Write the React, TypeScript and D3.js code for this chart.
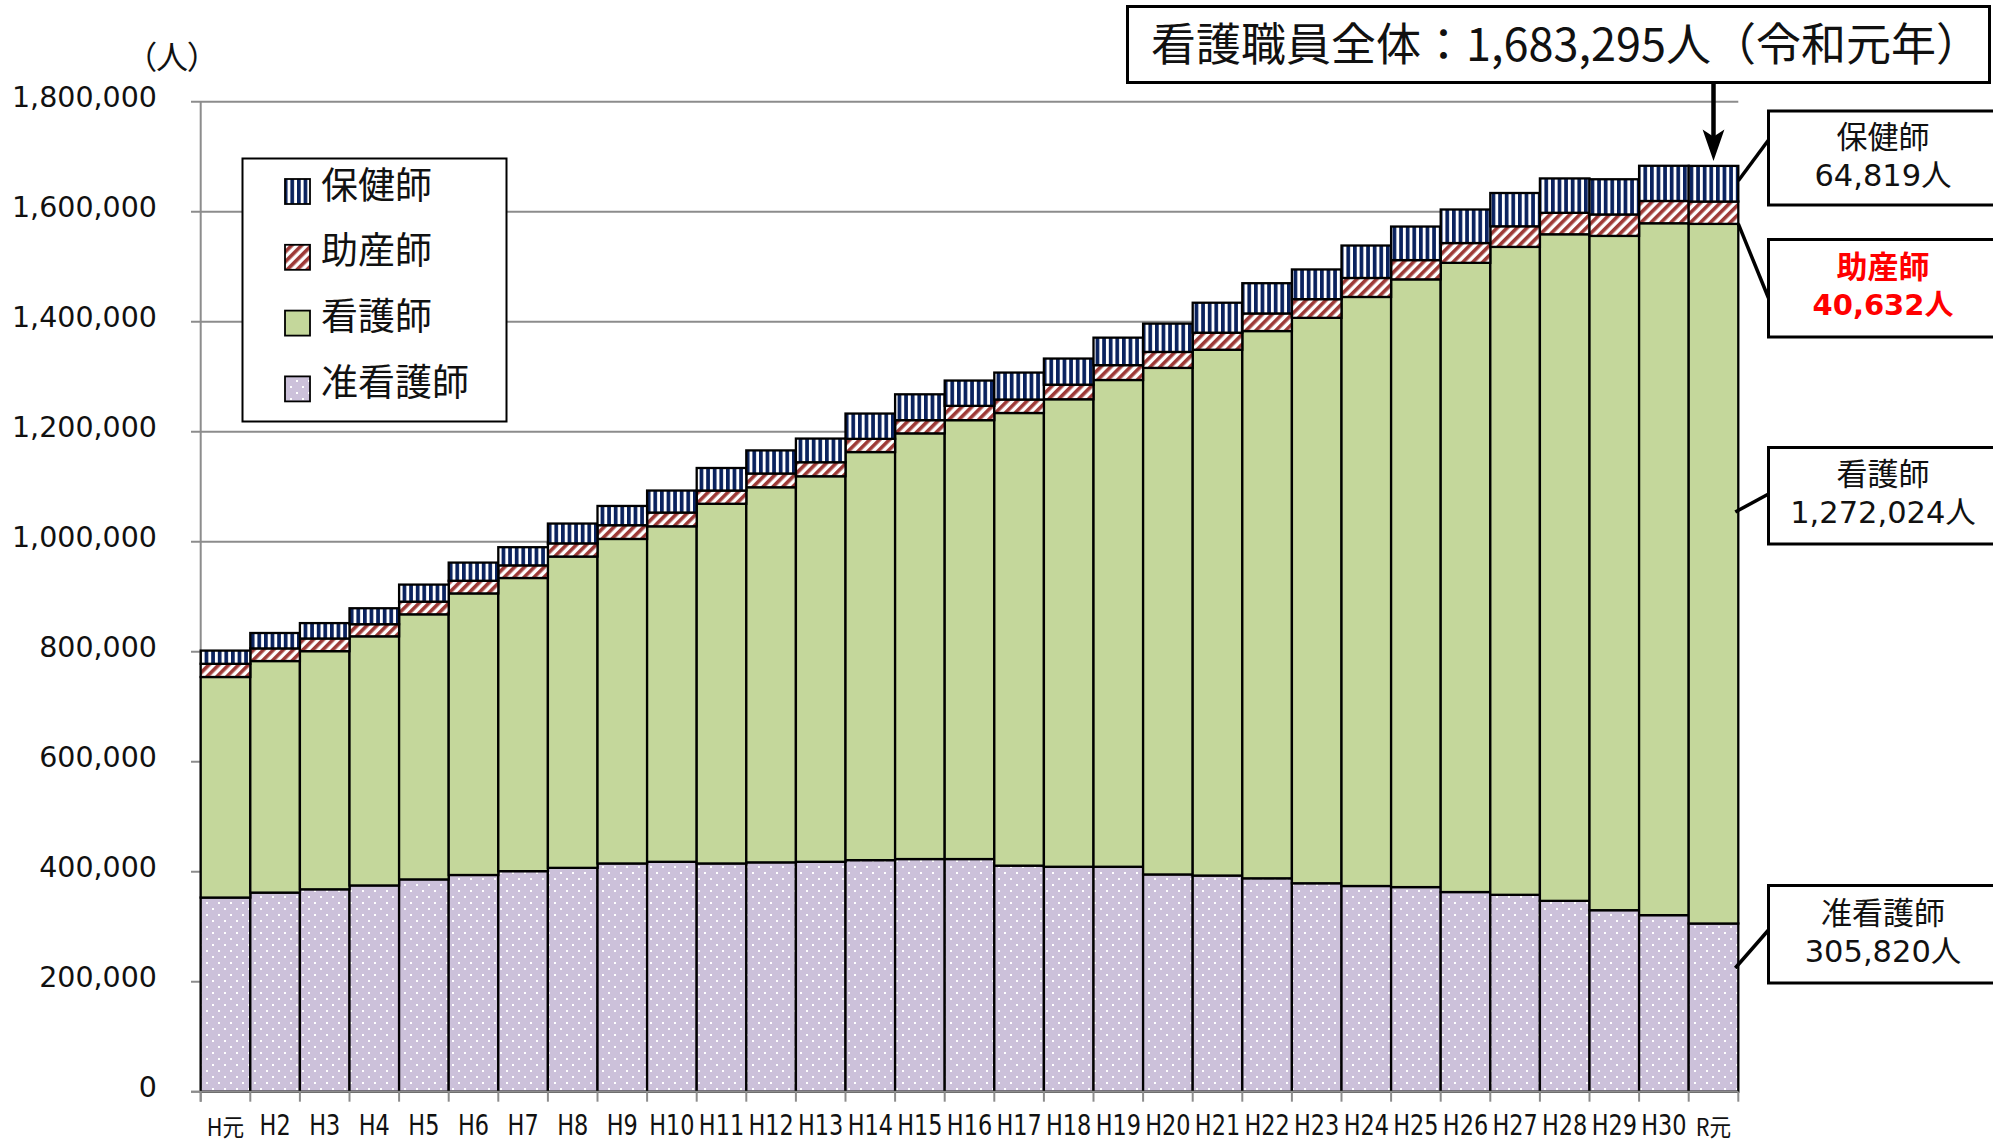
import React from "react";
import * as d3 from "d3";

const categories = ["H元","H2","H3","H4","H5","H6","H7","H8","H9","H10","H11","H12","H13","H14","H15","H16","H17","H18","H19","H20","H21","H22","H23","H24","H25","H26","H27","H28","H29","H30","R元"];

const junkangoshi = [353000,362000,368000,375000,386000,394000,401000,407000,415000,418000,415000,417000,418000,421000,423000,423000,411000,409000,409000,395000,393000,388000,379000,374000,372000,363000,358000,347000,330000,321000,305820];
const kangoshi = [401000,421000,433000,453000,482000,512000,533000,566000,590000,610000,654000,682000,701000,742000,774000,798000,823000,850000,885000,921000,956000,995000,1028000,1071000,1105000,1144000,1178000,1212000,1226000,1258000,1272024];
const josanshi = [24000,23000,23000,22000,23000,23000,23000,24000,25000,25000,24000,25000,25500,24000,24000,26000,24500,26500,27000,29000,31000,32000,34000,34500,35000,36000,37500,39000,39000,40500,40632];
const hokenshi = [24000,28000,28000,29000,31000,33000,33000,36000,35000,40000,41000,42000,43000,46000,47000,46000,49000,47500,50000,51500,54500,55000,54000,59000,61000,61000,60500,62500,64000,64000,64819];

const seriesKeys = ["准看護師","看護師","助産師","保健師"];
const legendOrder = ["保健師","助産師","看護師","准看護師"];
const yTicks = [0,200000,400000,600000,800000,1000000,1200000,1400000,1600000,1800000];

const fills: Record<string,string> = {
  "准看護師": "url(#pDots)",
  "看護師": "#C4D79B",
  "助産師": "url(#pDiag)",
  "保健師": "url(#pVert)",
};

const JP = "'Noto Sans CJK JP', 'Noto Sans', sans-serif";
const NUM = "'DejaVu Sans', Verdana, sans-serif";
const NUMJP = "'DejaVu Sans', 'Noto Sans CJK JP', sans-serif";

export default function App() {
  const W = 1993, H = 1142;
  const x0 = 200.7, x1 = 1738.3, yBottom = 1091.7, yTop = 101.7;
  const x = d3.scaleBand<string>().domain(categories).range([x0, x1]).padding(0);
  const y = d3.scaleLinear().domain([0, 1800000]).range([yBottom, yTop]);

  const rows = categories.map((c, i) => ({
    cat: c,
    "准看護師": junkangoshi[i],
    "看護師": kangoshi[i],
    "助産師": josanshi[i],
    "保健師": hokenshi[i],
  }));
  const stacked = d3.stack<any>().keys(seriesKeys)(rows);

  const last = categories.length - 1;
  const total = junkangoshi[last] + kangoshi[last] + josanshi[last] + hokenshi[last];
  const fmt = d3.format(",");
  const lastX = x(categories[last])!;
  const lastMid = lastX + x.bandwidth() / 2;
  const lastRight = lastX + x.bandwidth();

  const boxL = 1768.5;
  const callouts = [
    { key: "保健師", top: 111, bottom: 205, name: "保健師", val: hokenshi[last], red: false, ly: 140, ty: y(total - hokenshi[last] / 2) - 3 },
    { key: "助産師", top: 239.5, bottom: 337, name: "助産師", val: josanshi[last], red: true, ly: 298, ty: y(junkangoshi[last] + kangoshi[last]) },
    { key: "看護師", top: 447.5, bottom: 544, name: "看護師", val: kangoshi[last], red: false, ly: 494, ty: 512 },
    { key: "准看護師", top: 885.5, bottom: 983, name: "准看護師", val: junkangoshi[last], red: false, ly: 930, ty: 968 },
  ];

  return (
    <svg width={W} height={H} style={{ position: "absolute", left: 0, top: 0, background: "#fff" }}>
      <defs>
        <pattern id="pDots" patternUnits="userSpaceOnUse" width="12" height="12">
          <rect width="12" height="12" fill="#CCC1DA" />
          <rect x="2" y="2" width="2" height="2" fill="#ffffff" />
          <rect x="8" y="8" width="2" height="2" fill="#ffffff" />
        </pattern>
        <pattern id="pDiag" patternUnits="userSpaceOnUse" width="7" height="7" patternTransform="rotate(45)">
          <rect width="7" height="7" fill="#ffffff" />
          <rect width="3.6" height="7" fill="#9E3A37" />
        </pattern>
        <pattern id="pVert" patternUnits="userSpaceOnUse" width="6.6" height="10">
          <rect width="6.6" height="10" fill="#ffffff" />
          <rect width="3.7" height="10" fill="#0A225E" />
        </pattern>
      </defs>

      {/* gridlines */}
      {yTicks.map((t) => (
        <line key={t} x1={191} x2={x1} y1={y(t)} y2={y(t)} stroke="#8C8C8C" strokeWidth={2} />
      ))}
      {/* y axis line */}
      <line x1={x0} x2={x0} y1={yTop} y2={yBottom + 10} stroke="#8C8C8C" strokeWidth={2} />
      {/* y labels */}
      {yTicks.map((t) => (
        <text key={"l" + t} x={157} y={y(t) + 5.5} textAnchor="end" fontFamily={NUM} fontSize={28.5} fill="#111">
          {fmt(t)}
        </text>
      ))}
      <text x={172} y={55} textAnchor="middle" dominantBaseline="central" fontFamily={JP} fontSize={32} fill="#111" style={{ fontFeatureSettings: '"palt"' }}>（人）</text>

      {/* bars */}
      {stacked.map((s) => (
        <g key={s.key}>
          {s.map((d, i) => (
            <rect
              key={i}
              x={x(categories[i])}
              y={y(d[1])}
              width={x.bandwidth()}
              height={y(d[0]) - y(d[1])}
              fill={fills[s.key]}
              stroke="#000"
              strokeWidth={2.3}
            />
          ))}
        </g>
      ))}

      {/* x axis */}
      <line x1={191} x2={x1} y1={yBottom} y2={yBottom} stroke="#8C8C8C" strokeWidth={2} />
      {categories.map((c) => (
        <line key={"t" + c} x1={x(c)} x2={x(c)} y1={yBottom} y2={yBottom + 10} stroke="#8C8C8C" strokeWidth={2} />
      ))}
      <line x1={x1} x2={x1} y1={yBottom} y2={yBottom + 10} stroke="#8C8C8C" strokeWidth={2} />
      {categories.map((c) => {
        const cx = x(c)! + x.bandwidth() / 2;
        const gen = c.endsWith("元");
        return (
          <text
            key={"xl" + c}
            transform={`translate(${cx},${gen ? 1136 : 1135}) scale(${gen ? 0.9 : 0.8},1)`}
            textAnchor="middle"
            fontFamily={gen ? JP : NUM}
            fontSize={gen ? 24 : 28}
            fill="#111"
          >
            {c}
          </text>
        );
      })}

      {/* legend */}
      <rect x={242.5} y={158.5} width={264} height={263} fill="#fff" stroke="#000" strokeWidth={2} />
      {legendOrder.map((k, i) => {
        const cy = 191.5 + i * 65.8;
        return (
          <g key={"lg" + k}>
            <rect x={285} y={cy - 12.5} width={25} height={25} fill={fills[k]} stroke="#000" strokeWidth={1.8} />
            <text x={321} y={cy - 9} dominantBaseline="central" fontFamily={JP} fontSize={37} fill="#111">{k}</text>
          </g>
        );
      })}

      {/* top callout */}
      <rect x={1127.5} y={6.5} width={862} height={76} fill="#fff" stroke="#000" strokeWidth={3} />
      <text x={1566} y={41} textAnchor="middle" dominantBaseline="central" fontFamily={JP} fontSize={45} fill="#111">
        {`看護職員全体：${fmt(total)}人（令和元年）`}
      </text>
      <line x1={lastMid} x2={lastMid} y1={83} y2={140} stroke="#000" strokeWidth={4.5} />
      <path d={`M${lastMid},${y(total) - 8} L${lastMid - 9},${y(total) - 34} L${lastMid},${y(total) - 28} L${lastMid + 9},${y(total) - 34} Z`} fill="#000" stroke="#000" strokeWidth={2} />

      {/* right callouts */}
      {callouts.map((c) => {
        const mid = (c.top + c.bottom) / 2;
        const col = c.red ? "#FF0000" : "#111";
        return (
          <g key={"co" + c.key}>
            <line x1={boxL} y1={c.ly} x2={lastRight - (c.key === "看護師" || c.key === "准看護師" ? 3 : 0)} y2={c.ty} stroke="#000" strokeWidth={3.5} />
            <rect x={boxL} y={c.top} width={240} height={c.bottom - c.top} fill="#fff" stroke="#000" strokeWidth={3} />
            <text x={1883} y={mid - 24} textAnchor="middle" dominantBaseline="central" fontFamily={JP} fontSize={31} fontWeight={c.red ? 700 : 400} fill={col}>{c.name}</text>
            <text x={1883} y={mid + 17} textAnchor="middle" dominantBaseline="central" fontFamily={NUMJP} fontSize={c.red ? 29 : 30.5} fontWeight={c.red ? 700 : 400} fill={col}>{`${fmt(c.val)}人`}</text>
          </g>
        );
      })}
    </svg>
  );
}
